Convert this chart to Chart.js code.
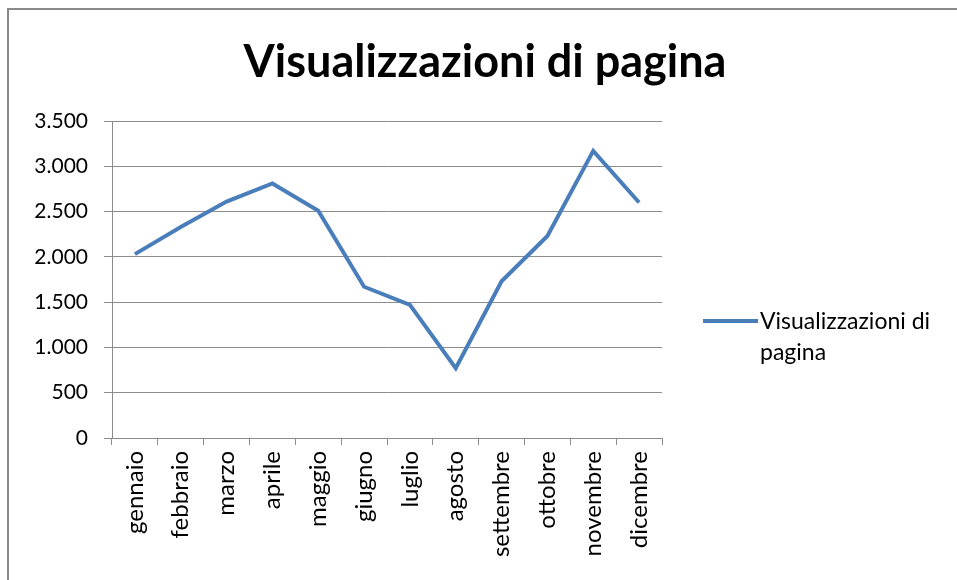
<!DOCTYPE html>
<html>
<head>
<meta charset="utf-8">
<script src="https://cdn.jsdelivr.net/npm/chart.js@4/dist/chart.umd.min.js"></script>
<style>
  html, body { margin: 0; padding: 0; background: #fff; }
  #frame {
    position: absolute;
    left: 7px; top: 8px;
    width: 950px; height: 572px;
    border-left: 2px solid #8a8a8a;
    border-top: 2px solid #8a8a8a;
  }
  #chart { display: block; }
</style>
</head>
<body>
<div id="frame"><canvas id="chart" width="948" height="570"></canvas></div>
<script>
const mesi = ["gennaio", "febbraio", "marzo", "aprile", "maggio", "giugno",
  "luglio", "agosto", "settembre", "ottobre", "novembre", "dicembre"];
const visualizzazioni = [2030, 2330, 2610, 2810, 2510, 1670, 1470, 770, 1730, 2230, 3170, 2600];
const yTicks = [0, 500, 1000, 1500, 2000, 2500, 3000, 3500];

const titolo = "Visualizzazioni di pagina";
const legendaRighe = ["Visualizzazioni di", "pagina"];

const font = "Lato, Calibri, 'Liberation Sans', sans-serif";
const lineColor = "#4a7ebb";
const gridColor = "#8c8c8c";

// separatore delle migliaia all'italiana
function formatIt(v) {
  return String(v).replace(/\B(?=(\d{3})+(?!\d))/g, ".");
}

// titolo centrato sull'intera tela e legenda a destra su due righe
const titoloLegendaPlugin = {
  id: "titoloLegenda",
  afterDraw(chart) {
    const ctx = chart.ctx;
    const area = chart.chartArea;
    ctx.save();

    ctx.fillStyle = "#000";
    ctx.font = "bold 45px " + font;
    ctx.textAlign = "center";
    ctx.textBaseline = "middle";
    ctx.fillText(titolo, chart.width / 2 + 2, 52);

    const x0 = area.right + 41;
    const y0 = 311;
    ctx.strokeStyle = lineColor;
    ctx.lineWidth = 4;
    ctx.beginPath();
    ctx.moveTo(x0, y0);
    ctx.lineTo(x0 + 55, y0);
    ctx.stroke();

    ctx.font = "23px " + font;
    ctx.textAlign = "left";
    legendaRighe.forEach((riga, i) => {
      ctx.fillText(riga, x0 + 57, y0 + 1 + i * 31);
    });
    ctx.restore();
  }
};

new Chart(document.getElementById("chart"), {
  type: "line",

  data: {
    labels: mesi,

    datasets: [{
      label: titolo,
      data: visualizzazioni,
      borderColor: lineColor,
      backgroundColor: lineColor,
      borderWidth: 4,
      tension: 0,
      pointRadius: 0,
      fill: false
    }]
  },

  options: {
    responsive: false,
    animation: false,
    devicePixelRatio: 1,

    layout: {
      padding: { left: 10, right: 295, top: 111, bottom: 0 }
    },

    plugins: {
      legend: { display: false },
      tooltip: { enabled: false },
      title: { display: false }
    },

    scales: {
      x: {
        offset: true,
        grid: {
          offset: true,
          drawOnChartArea: false,
          tickLength: 7,
          color: gridColor
        },
        border: { color: gridColor, width: 1 },
        ticks: {
          color: "#000",
          minRotation: 90,
          maxRotation: 90,
          autoSkip: false,
          padding: 6,
          font: { family: font, size: 24 }
        },
        afterFit(scale) {
          scale.height = 142;
        }
      },

      y: {
        min: 0,
        max: 3500,
        afterBuildTicks(scale) {
          scale.ticks = yTicks.map(v => ({ value: v }));
        },
        grid: {
          color: gridColor,
          tickLength: 8,
          lineWidth: 1
        },
        border: { color: gridColor, width: 1 },
        ticks: {
          color: "#000",
          padding: 16,
          font: { family: font, size: 21 },
          callback: v => formatIt(v)
        },
        afterFit(scale) {
          scale.width = 93;
        }
      }
    }
  },

  plugins: [titoloLegendaPlugin]
});
</script>
</body>
</html>
